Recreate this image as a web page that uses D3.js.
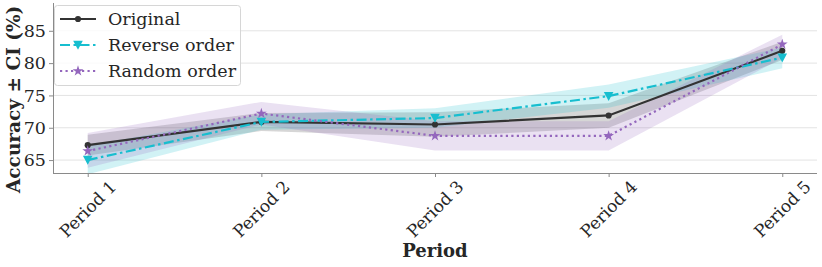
<!DOCTYPE html>
<html><head><meta charset="utf-8">
<script src="https://cdn.jsdelivr.net/npm/d3@7"></script>
<style>
body{margin:0;background:#fff;}
svg{display:block;font-family:"DejaVu Serif",serif;}
</style></head><body>
<svg id="c" width="822" height="267"></svg>
<script>
const periods = ["Period 1","Period 2","Period 3","Period 4","Period 5"];
const yTicks = [65,70,75,80,85];
const originalMean = [67.3, 70.9, 70.5, 71.9, 81.9];
const originalLow  = [65.7, 69.5, 68.6, 70.0, 80.5];
const originalHigh = [68.9, 72.3, 72.4, 73.8, 83.3];
const reverseMean  = [65.0, 70.9, 71.5, 74.9, 80.85];
const reverseLow   = [62.8, 69.7, 70.0, 73.1, 79.2];
const reverseHigh  = [67.2, 72.1, 73.0, 76.7, 82.4];
const randomMean   = [66.4, 72.2, 68.75, 68.75, 82.9];
const randomLow    = [63.8, 70.5, 66.5, 66.5, 80.8];
const randomHigh   = [69.2, 74.0, 71.0, 71.0, 84.4];
const seriesNames  = ["Original","Reverse order","Random order"];

const series = [
  {name:seriesNames[0], mean:originalMean, lo:originalLow, hi:originalHigh, color:"#333333", dash:null, marker:"circle"},
  {name:seriesNames[1], mean:reverseMean, lo:reverseLow, hi:reverseHigh, color:"#17becf", dash:"10,3.5,2.5,3.5", marker:"tri"},
  {name:seriesNames[2], mean:randomMean, lo:randomLow, hi:randomHigh, color:"#9467bd", dash:"2.2,3.3", marker:"star"}
];

const svg = d3.select("#c");
const L=53, R=817, T=3, B=173;
const x = d3.scalePoint().domain(periods).range([L,R]).padding(0.2);
const y = d3.scaleLinear().domain([63,89.3]).range([B,T]);

// grid
svg.append("g").selectAll("line").data(yTicks).join("line")
  .attr("x1",L).attr("x2",R).attr("y1",d=>y(d)).attr("y2",d=>y(d))
  .attr("stroke","#e3e3e3").attr("stroke-width",1);

// bands
series.forEach(s=>{
  const area = d3.area().x((d,i)=>x(periods[i])).y0((d,i)=>y(s.lo[i])).y1((d,i)=>y(s.hi[i]));
  svg.append("path").datum(s.mean).attr("d",area).attr("fill",s.color).attr("fill-opacity",0.2);
});

function markerPath(type){
  if(type==="circle") return d3.symbol(d3.symbolCircle,30)();
  if(type==="tri") { return "M-4.8,-4.2 L4.8,-4.2 L0,4.8 Z"; }
  return d3.symbol(d3.symbolStar,36)();
}

series.forEach(s=>{
  const line = d3.line().x((d,i)=>x(periods[i])).y(d=>y(d));
  const p = svg.append("path").datum(s.mean).attr("d",line).attr("fill","none")
    .attr("stroke",s.color).attr("stroke-width",2.2);
  if(s.dash) p.attr("stroke-dasharray",s.dash);
  svg.append("g").selectAll("path").data(s.mean).join("path")
    .attr("d",markerPath(s.marker))
    .attr("transform",(d,i)=>`translate(${x(periods[i])},${y(d)})`)
    .attr("fill",s.color);
});

// axes
const ax = d3.axisBottom(x).tickSize(4).tickFormat("");
const gx = svg.append("g").attr("transform",`translate(0,${B})`).call(ax);
gx.select(".domain").attr("d",`M${L},0.5H${R}`).attr("stroke","#8a8a8a");
gx.selectAll(".tick line").attr("stroke","#8a8a8a");
svg.append("g").selectAll("text").data(periods).join("text")
  .attr("transform",d=>`translate(${x(d)},${209}) rotate(-45)`)
  .attr("text-anchor","middle").attr("dominant-baseline","central")
  .attr("font-size",17).attr("fill","#262626").text(d=>d);

const ay = d3.axisLeft(y).tickValues(yTicks).tickSize(4).tickPadding(3);
const gy = svg.append("g").attr("transform",`translate(${L},0)`).call(ay);
gy.select(".domain").attr("d",`M0.5,${T}V${B}`).attr("stroke","#8a8a8a");
gy.selectAll(".tick line").attr("stroke","#8a8a8a");
gy.selectAll(".tick text").attr("font-size",17.5).attr("fill","#262626").attr("font-family","DejaVu Serif");

svg.append("text").attr("x",(L+R)/2).attr("y",257).attr("text-anchor","middle")
  .attr("font-weight","bold").attr("font-size",18).attr("fill","#262626").text("Period");
svg.append("text").attr("transform",`translate(20,193) rotate(-90)`).attr("text-anchor","start")
  .attr("font-weight","bold").attr("font-size",18.5).attr("fill","#262626").text("Accuracy ± CI (%)");

// legend
const lg = svg.append("g");
lg.append("rect").attr("x",54.5).attr("y",5.5).attr("width",186).attr("height",80).attr("rx",3)
  .attr("fill","#fff").attr("fill-opacity",0.8).attr("stroke","#d6d6d6");
series.forEach((s,i)=>{
  const yy = 19 + i*26;
  const ln = lg.append("line").attr("x1",60).attr("x2",96).attr("y1",yy).attr("y2",yy)
    .attr("stroke",s.color).attr("stroke-width",2.2);
  if(s.dash) ln.attr("stroke-dasharray",s.dash);
  lg.append("path").attr("d",markerPath(s.marker)).attr("transform",`translate(78,${yy})`).attr("fill",s.color);
  lg.append("text").attr("x",108).attr("y",yy).attr("dominant-baseline","central")
    .attr("font-size",17.5).attr("fill","#262626").text(s.name);
});
</script></body></html>
